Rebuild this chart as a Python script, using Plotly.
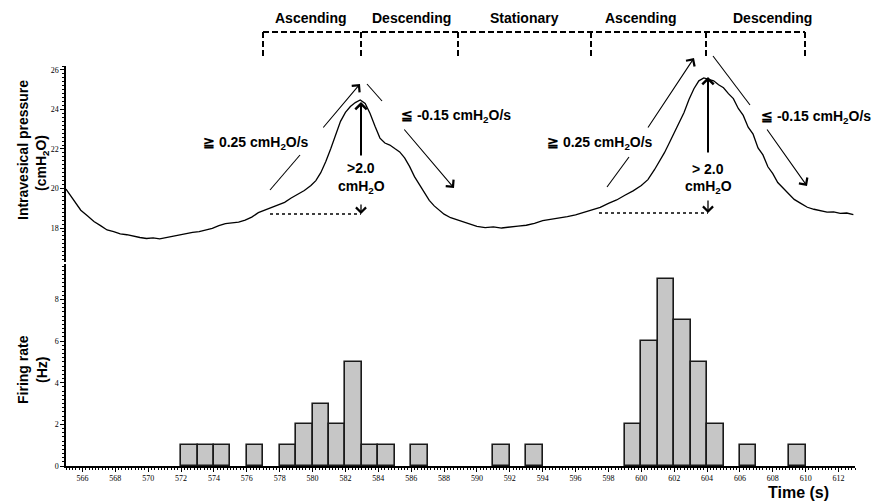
import plotly.graph_objects as go

# ---------------- data ----------------
pressure_time = [565.0, 565.3, 565.6, 565.9, 566.3, 566.7, 567.1, 567.5, 567.9, 568.3,
                 568.7, 569.1, 569.5, 569.9, 570.3, 570.7, 571.1, 571.5, 571.9, 572.3,
                 572.7, 573.1, 573.5, 573.9, 574.3, 574.7, 575.1, 575.5, 575.9, 576.3,
                 576.7, 577.1, 577.5, 577.9, 578.3, 578.7, 579.1, 579.5, 579.9, 580.2,
                 580.5, 580.8, 581.1, 581.4, 581.7, 582.0, 582.3, 582.6, 582.9, 583.2,
                 583.5, 583.8, 584.1, 584.4, 584.7, 585.0, 585.3, 585.6, 585.9, 586.2,
                 586.5, 586.8, 587.1, 587.4, 587.7, 588.0, 588.4, 588.8, 589.2, 589.6,
                 590.0, 590.5, 591.0, 591.5, 592.0, 592.5, 593.0, 593.5, 594.0, 594.5,
                 595.0, 595.5, 596.0, 596.5, 597.0, 597.5, 598.0, 598.5, 599.0, 599.5,
                 600.0, 600.4, 600.8, 601.1, 601.4, 601.7, 602.0, 602.3, 602.6, 602.9,
                 603.2, 603.5, 603.8, 604.1, 604.4, 604.7, 605.0, 605.3, 605.6, 605.9,
                 606.2, 606.5, 606.8, 607.1, 607.4, 607.7, 608.0, 608.3, 608.6, 608.9,
                 609.3, 609.7, 610.1, 610.5, 610.9, 611.3, 611.7, 612.1, 612.5, 612.9]
pressure_cmH2O = [19.97, 19.62, 19.25, 18.90, 18.62, 18.33, 18.12, 17.90, 17.82, 17.70,
                  17.66, 17.58, 17.52, 17.47, 17.50, 17.45, 17.52, 17.58, 17.63, 17.72,
                  17.78, 17.82, 17.90, 17.98, 18.12, 18.22, 18.26, 18.30, 18.40, 18.55,
                  18.78, 18.90, 19.02, 19.18, 19.30, 19.52, 19.70, 19.90, 20.15, 20.40,
                  20.80, 21.35, 22.00, 22.75, 23.40, 23.85, 24.15, 24.35, 24.48, 24.30,
                  23.80, 23.15, 22.55, 22.30, 22.20, 22.02, 21.85, 21.55, 21.12, 20.60,
                  20.20, 19.80, 19.40, 19.12, 18.90, 18.70, 18.52, 18.40, 18.28, 18.18,
                  18.08, 18.02, 18.06, 18.00, 18.06, 18.10, 18.14, 18.24, 18.38, 18.44,
                  18.52, 18.58, 18.66, 18.80, 18.92, 19.05, 19.25, 19.42, 19.66, 19.88,
                  20.15, 20.45, 20.95, 21.35, 21.80, 22.30, 22.80, 23.35, 23.85, 24.50,
                  25.05, 25.45, 25.60, 25.52, 25.45, 25.25, 25.10, 24.80, 24.55, 24.05,
                  23.70, 23.10, 22.75, 22.05, 21.70, 21.10, 20.75, 20.30, 20.05, 19.78,
                  19.45, 19.25, 19.05, 18.95, 18.86, 18.80, 18.82, 18.74, 18.76, 18.68]

bin_left = [572, 573, 574, 576, 578, 579, 580, 581, 582, 583, 584, 586,
            591, 593, 599, 600, 601, 602, 603, 604, 606, 609]
firing_hz = [1, 1, 1, 1, 1, 2, 3, 2, 5, 1, 1, 1,
             1, 1, 2, 6, 9, 7, 5, 2, 1, 1]

phase_labels = ["Ascending", "Descending", "Stationary", "Ascending", "Descending"]
x_ticks = list(range(566, 613, 2))

# ---------------- layout helpers (pixel -> paper) ----------------
W, H = 877, 504
L, R, T, B = 66, 855, 66, 466
def X(px):
    return (px - L) / (R - L)
def Y(py):
    return (B - py) / (B - T)

FONT = "Arial, Liberation Sans, sans-serif"
TICKFONT = dict(family="Liberation Serif, serif", size=8, color="black")

fig = go.Figure()
fig.add_trace(go.Scatter(x=pressure_time, y=pressure_cmH2O, mode="lines",
                         line=dict(color="black", width=1.3), xaxis="x", yaxis="y",
                         hoverinfo="skip"))
fig.add_trace(go.Bar(x=bin_left, y=firing_hz, width=1, offset=0,
                     marker=dict(color="#c6c6c6", line=dict(color="#1a1a1a", width=1.6)),
                     xaxis="x", yaxis="y2", hoverinfo="skip"))

axis_common = dict(showline=True, linecolor="black", linewidth=1.5, ticks="outside",
                   ticklen=4, tickwidth=1.2, tickcolor="black", showgrid=False,
                   zeroline=False, tickfont=TICKFONT)

fig.update_layout(
    width=W, height=H,
    margin=dict(l=L, r=W - R, t=T, b=H - B, autoexpand=False),
    plot_bgcolor="white", paper_bgcolor="white",
    showlegend=False, bargap=0,
    xaxis=dict(range=[565, 613], anchor="y2", tickvals=x_ticks,
               minor=dict(dtick=0.2, ticklen=2, ticks="outside", tickcolor="black"),
               **axis_common),
    yaxis=dict(domain=[0.51, 1], range=[16.28, 26.2], tickvals=[18, 20, 22, 24, 26],
               minor=dict(dtick=0.2, ticklen=2, ticks="outside", tickcolor="black"),
               **axis_common),
    yaxis2=dict(domain=[0, 0.505], range=[0, 9.7], tickvals=[0, 2, 4, 6, 8],
                minor=dict(dtick=0.2, ticklen=2, ticks="outside", tickcolor="black"),
                **axis_common),
)

shapes = []
annots = []

# phase bracket
brk_x = [263, 361, 458, 591, 706, 805]
shapes.append(dict(type="line", xref="paper", yref="paper", x0=X(263), x1=X(805),
                   y0=Y(32), y1=Y(32), line=dict(color="black", width=2, dash="6px,3px")))
for bx in brk_x:
    shapes.append(dict(type="line", xref="paper", yref="paper", x0=X(bx), x1=X(bx),
                       y0=Y(32), y1=Y(56), line=dict(color="black", width=2, dash="6px,3px")))

def label(txt, cx, cy, size=14, angle=0):
    annots.append(dict(text="<b>%s</b>" % txt, x=X(cx), y=Y(cy), xref="paper", yref="paper",
                       xanchor="center", yanchor="middle", showarrow=False, textangle=angle,
                       font=dict(family=FONT, size=size, color="black")))

label_cx = [311, 411, 524, 641, 772]
for lab, cx in zip(phase_labels, label_cx):
    label(lab, cx, 18, size=14)

def seg(x0, y0, x1, y1, width=1.1, dash=None):
    ln = dict(color="black", width=width)
    if dash:
        ln["dash"] = dash
    shapes.append(dict(type="line", xref="paper", yref="paper", x0=X(x0), x1=X(x1),
                       y0=Y(y0), y1=Y(y1), line=ln))

def arrow(hx, hy, tx, ty, width=1.1, size=1.8):
    annots.append(dict(text="", x=X(hx), y=Y(hy), xref="paper", yref="paper",
                       ax=tx - hx, ay=ty - hy, axref="pixel", ayref="pixel",
                       showarrow=True, arrowhead=4, arrowsize=size, arrowwidth=width,
                       arrowcolor="black", standoff=0, startstandoff=0))

# first peak
seg(270, 190, 300, 155)
arrow(360, 84, 322, 129)
seg(367, 84, 382, 101)
arrow(454, 188, 403, 128)
arrow(361, 102, 361, 157, width=2, size=1.1)
arrow(361, 214, 361, 203, width=1.3, size=1.5)
seg(270, 214, 361, 214, width=1.3, dash="dot")
label("≧ 0.25 cmH<sub>2</sub>O/s", 256, 143)
label("≦ -0.15 cmH<sub>2</sub>O/s", 456, 116)
label(">2.0", 361, 168)
label("cmH<sub>2</sub>O", 361, 187)

# second peak
seg(607, 187, 629, 157)
arrow(694, 58, 647, 129)
seg(713, 56, 750, 105)
arrow(807, 186, 766, 128)
arrow(708, 77, 708, 154, width=2, size=1.1)
arrow(708, 213, 708, 199, width=1.3, size=1.5)
seg(599, 213, 708, 213, width=1.3, dash="dot")
label("≧ 0.25 cmH<sub>2</sub>O/s", 600, 143)
label("≦ -0.15 cmH<sub>2</sub>O/s", 816, 117)
label("> 2.0", 708, 169)
label("cmH<sub>2</sub>O", 708, 187)

# axis titles
label("Intravesical pressure", 23, 150, angle=-90)
label("(cmH<sub>2</sub>O)", 42, 163, angle=-90)
label("Firing rate", 23, 370, angle=-90)
label("(Hz)", 42, 370, angle=-90)
label("Time (s)", 798, 492, size=16)

fig.update_layout(shapes=shapes, annotations=annots)
fig.write_html("out.html", config={"displayModeBar": False},
               post_script="document.body.style.margin='0';document.body.style.overflow='hidden';")
